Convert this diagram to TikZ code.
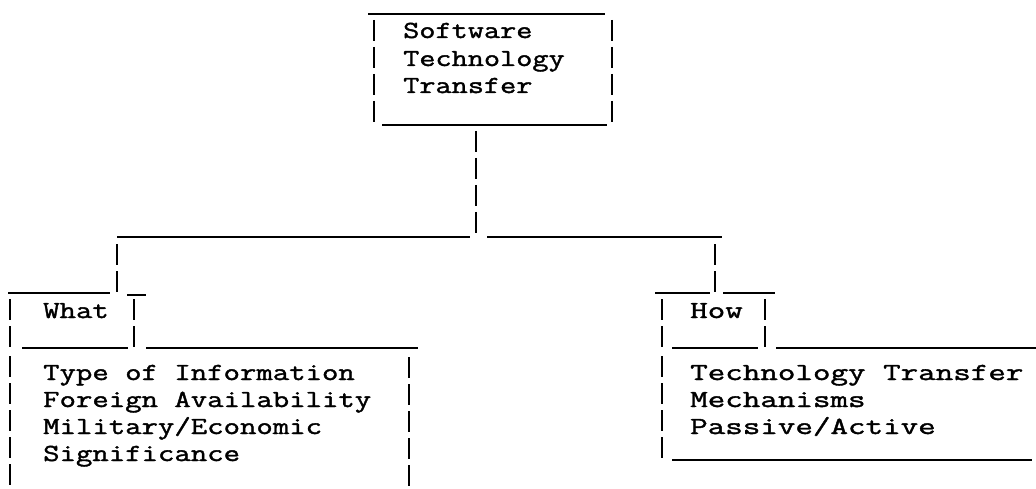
\documentclass[tikz,border=0pt]{standalone}
\usepackage{fontspec}
\newfontfamily\twfam{Latin Modern Mono}[FakeStretch=1.28,FakeBold=1.6]
\newfontfamily\twfamL{Latin Modern Mono}[FakeStretch=1.30,FakeBold=1.6]
\newfontfamily\twfamR{Latin Modern Mono}[FakeStretch=1.39,FakeBold=1.6]
\newcommand\twfont{\twfam\fontsize{24.5}{27}\selectfont}
\newcommand\twfontL{\twfamL\fontsize{24.5}{27}\selectfont}
\newcommand\twfontR{\twfamR\fontsize{24.5}{27}\selectfont}
\begin{document}
\begin{tikzpicture}[x=1pt,y=-1pt,
  hbar/.style={line width=2.6pt, line cap=butt},
  vbar/.style={line width=1.8pt, dash pattern=on 21pt off 6pt},
  lbl/.style={anchor=base west, inner sep=0pt, font=\twfont, text=black},
  lblL/.style={lbl, font=\twfontL},
  lblR/.style={lbl, font=\twfontR}]
\useasboundingbox (0,0) rectangle (1036,489);
% ---------- top box ----------
\draw[hbar] (368,14) -- (605,14);
\draw[vbar] (374,20) -- (374,124);
\draw[vbar] (612,20) -- (612,124);
\draw[hbar] (382,125) -- (607,125);
\node[lbl] (t1) at (403,38) {Software};
\node[lbl] (t2) at (403,66) {Technology};
\node[lbl] (t3) at (403,93) {Transfer};
\coordinate (topout) at (476,131);
\coordinate (junc) at (476,237);
\draw[vbar] (topout) -- (junc);
% ---------- bar ----------
\coordinate (barL) at (117,237);
\coordinate (barR) at (722,237);
\draw[hbar] (barL) -- (470,237);
\draw[hbar] (487,237) -- (barR);
\coordinate (dropL) at (117,244);
\coordinate (whatin) at (117,293);
\draw[vbar] (dropL) -- (whatin);
\coordinate (dropR) at (715,244);
\coordinate (howin) at (715,293);
\draw[vbar] (dropR) -- (howin);
% ---------- What box ----------
\draw[hbar] (8,293) -- (110,293);
\draw[hbar] (127,295) -- (146,295);
\draw[vbar] (10,299) -- (10,350);
\draw[vbar] (134,299) -- (134,350);
\node[lblL] (what) at (43,318) {What};
\draw[hbar] (22,348) -- (128,348);
\draw[hbar] (146,348) -- (418,348);
\draw[vbar] (10,356) -- (10,489);
\draw[vbar] (409,357) -- (409,489);
\node[lblL] (w1) at (43,380) {Type of Information};
\node[lblL] (w2) at (43,407) {Foreign Availability};
\node[lblL] (w3) at (43,434) {Military/Economic};
\node[lblL] (w4) at (43,461) {Significance};
% ---------- How box ----------
\draw[hbar] (655,293) -- (710,293);
\draw[hbar] (723,293) -- (775,293);
\draw[vbar] (662,299) -- (662,350);
\draw[vbar] (765,299) -- (765,350);
\node[lblR] (how) at (690,318) {How};
\draw[hbar] (672,348) -- (758,348);
\draw[hbar] (776,348) -- (1036,348);
\draw[vbar] (662,356) -- (662,460);
\node[lblR] (h1) at (690,380) {Technology Transfer};
\node[lblR] (h2) at (690,407) {Mechanisms};
\node[lblR] (h3) at (690,434) {Passive/Active};
\draw[hbar] (672,460) -- (1032,460);
\end{tikzpicture}
\end{document}
